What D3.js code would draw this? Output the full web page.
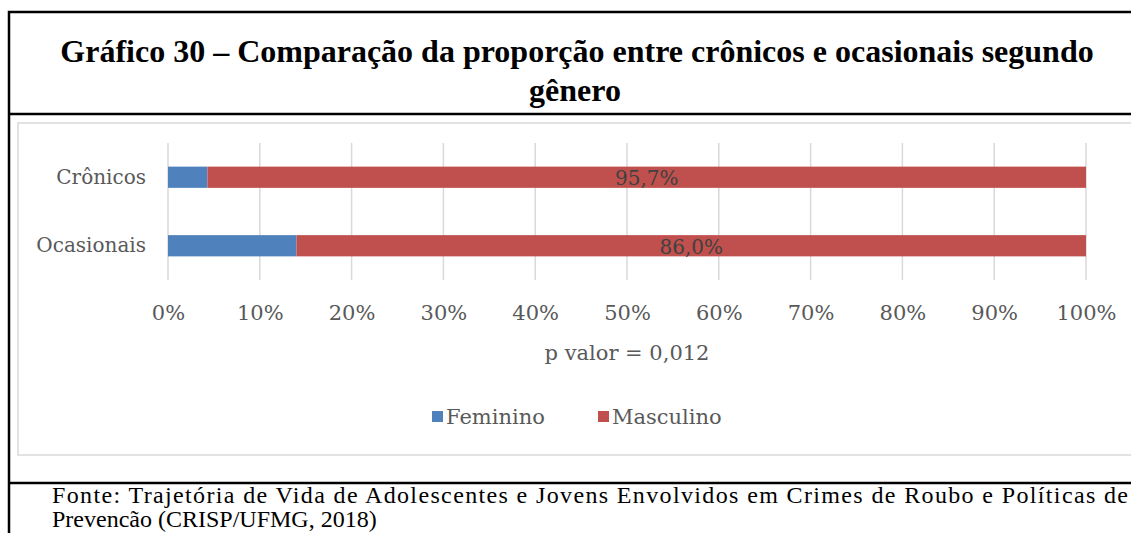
<!DOCTYPE html>
<html>
<head>
<meta charset="utf-8">
<script src="https://cdn.jsdelivr.net/npm/d3@7"></script>
<style>
  body { margin: 0; background: #fff; }
  svg { display: block; }
</style>
</head>
<body>
<div id="chart"></div>
<script>
// Chart data
var categories = ["Crônicos", "Ocasionais"];
var feminino = [4.3, 14.0];
var masculino = [95.7, 86.0];
var seriesNames = ["Feminino", "Masculino"];
var xTicks = [0, 10, 20, 30, 40, 50, 60, 70, 80, 90, 100];

var svgWidth = 1131;
var svgHeight = 533;
var colors = ["#4f81bd", "#c0504d"];
var textGray = "#595959";
var chartFont = "'DejaVu Serif', serif";
var chartFontSize = 21;

var svg = d3.select("#chart")
  .append("svg")
  .attr("width", svgWidth)
  .attr("height", svgHeight);

// Frame boxes
svg.append("rect")
  .attr("x", 9).attr("y", 12)
  .attr("width", 1140).attr("height", 600)
  .attr("fill", "none")
  .attr("stroke", "#000")
  .attr("stroke-width", 2.5);

svg.append("line")
  .attr("x1", 9).attr("x2", svgWidth)
  .attr("y1", 114).attr("y2", 114)
  .attr("stroke", "#000").attr("stroke-width", 2.5);

svg.append("rect")
  .attr("x", 18).attr("y", 123)
  .attr("width", 1140).attr("height", 332)
  .attr("fill", "none")
  .attr("stroke", "#d9d9d9")
  .attr("stroke-width", 1.5);

svg.append("line")
  .attr("x1", 9).attr("x2", svgWidth)
  .attr("y1", 483).attr("y2", 483)
  .attr("stroke", "#000").attr("stroke-width", 2.5);

// Title
var title = svg.append("text")
  .attr("text-anchor", "middle")
  .attr("font-family", "'Liberation Serif', serif")
  .attr("font-weight", "bold")
  .attr("font-size", 32)
  .attr("fill", "#000");
title.append("tspan").attr("x", 577).attr("y", 62)
  .text("Gráfico 30 – Comparação da proporção entre crônicos e ocasionais segundo");
title.append("tspan").attr("x", 575).attr("y", 101).text("gênero");

// Scales
var x = d3.scaleLinear().domain([0, 100]).range([168, 1086]);
var y = d3.scaleBand().domain(categories).range([143, 280])
  .paddingInner(0.69).paddingOuter(0.345);

// Gridlines
svg.append("g")
  .selectAll("line")
  .data(xTicks)
  .enter()
  .append("line")
  .attr("x1", d => x(d)).attr("x2", d => x(d))
  .attr("y1", 143).attr("y2", 280)
  .attr("stroke", "#d9d9d9")
  .attr("stroke-width", 1.5);

// Stacked bars
var stackData = categories.map((c, i) => ({cat: c, Feminino: feminino[i], Masculino: masculino[i]}));
var stacked = d3.stack().keys(seriesNames)(stackData);

svg.append("g")
  .selectAll("g")
  .data(stacked)
  .enter()
  .append("g")
  .attr("fill", (d, i) => colors[i])
  .selectAll("rect")
  .data(d => d)
  .enter()
  .append("rect")
  .attr("x", d => x(d[0]))
  .attr("y", d => y(d.data.cat))
  .attr("width", d => x(d[1]) - x(d[0]))
  .attr("height", y.bandwidth());

// Data labels on Masculino
svg.append("g")
  .selectAll("text")
  .data(stacked[1])
  .enter()
  .append("text")
  .attr("x", d => x((d[0] + d[1]) / 2))
  .attr("y", d => y(d.data.cat) + y.bandwidth() / 2 + 8)
  .attr("text-anchor", "middle")
  .attr("font-family", chartFont)
  .attr("font-size", 20)
  .attr("fill", "#404040")
  .text(d => d.data.Masculino.toFixed(1).replace(".", ",") + "%");

// Category labels
var yAxis = svg.append("g")
  .attr("transform", "translate(168,0)")
  .call(d3.axisLeft(y).tickSize(0).tickPadding(22));
yAxis.select(".domain").remove();
yAxis.selectAll("text")
  .attr("font-family", chartFont)
  .attr("font-size", 20)
  .attr("fill", textGray);

// X axis labels
var xAxis = svg.append("g")
  .attr("transform", "translate(0,299)")
  .call(d3.axisBottom(x).tickValues(xTicks).tickSize(0).tickPadding(6).tickFormat(d => d + "%"));
xAxis.select(".domain").remove();
xAxis.selectAll("text")
  .attr("font-family", chartFont)
  .attr("font-size", chartFontSize)
  .attr("fill", textGray);

// Axis title
svg.append("text")
  .attr("x", 627).attr("y", 360)
  .attr("text-anchor", "middle")
  .attr("font-family", chartFont)
  .attr("font-size", chartFontSize)
  .attr("fill", textGray)
  .text("p valor = 0,012");

// Legend
var legendX = [432, 598];
var legend = svg.append("g")
  .selectAll("g")
  .data(seriesNames)
  .enter()
  .append("g")
  .attr("transform", (d, i) => `translate(${legendX[i]},417)`);
legend.append("rect")
  .attr("x", 0).attr("y", -6)
  .attr("width", 11).attr("height", 11)
  .attr("fill", (d, i) => colors[i]);
legend.append("text")
  .attr("x", 14).attr("y", 7)
  .attr("font-family", chartFont)
  .attr("font-size", chartFontSize)
  .attr("fill", textGray)
  .text(d => d);

// Source note
var fonte = svg.append("text")
  .attr("font-family", "'Liberation Serif', serif")
  .attr("font-size", 24)
  .attr("fill", "#000");
fonte.append("tspan").attr("x", 52).attr("y", 503)
  .attr("textLength", 1076).attr("lengthAdjust", "spacing")
  .text("Fonte: Trajetória de Vida de Adolescentes e Jovens Envolvidos em Crimes de Roubo e Políticas de");
fonte.append("tspan").attr("x", 52).attr("y", 527)
  .text("Prevencão (CRISP/UFMG, 2018)");
</script>
</body>
</html>
